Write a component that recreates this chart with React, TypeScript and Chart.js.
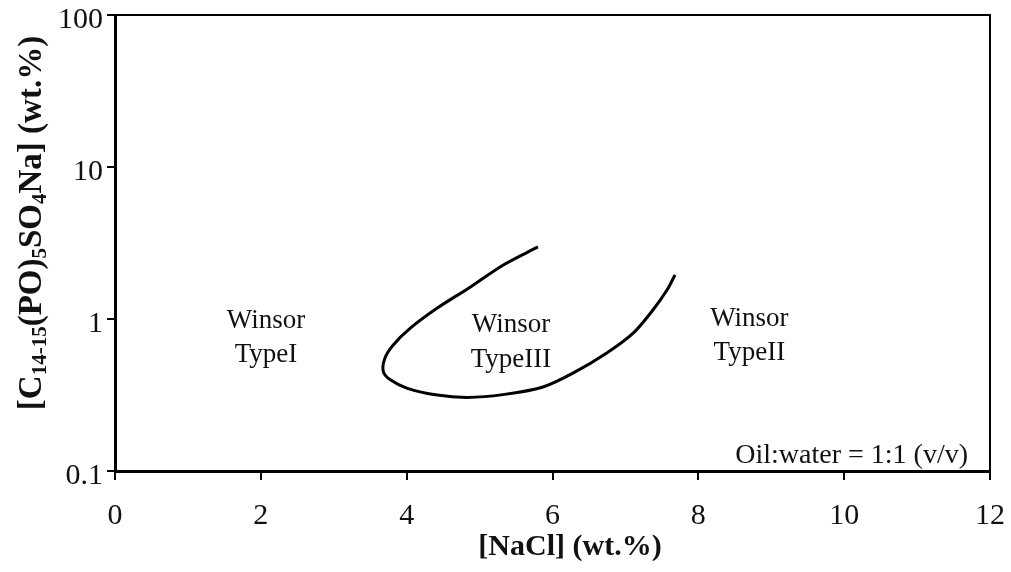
import React, { useEffect, useRef } from "react";
import { Chart, registerables } from "chart.js";

Chart.register(...registerables);

// Boundary of the Winsor Type III region (NaCl wt.% vs surfactant wt.%)
const naclValues = [5.8, 5.32, 4.87, 4.42, 4.05, 3.81, 3.7, 3.68, 3.77, 4.01, 4.42, 4.83, 5.32, 5.87, 6.28, 6.75, 7.11, 7.38, 7.57, 7.68];
const surfactantValues = [2.98, 2.26, 1.62, 1.18, 0.87, 0.67, 0.55, 0.45, 0.4, 0.35, 0.316, 0.305, 0.318, 0.357, 0.44, 0.6, 0.81, 1.15, 1.55, 1.95];

const xTickValues = [0, 2, 4, 6, 8, 10, 12];
const yTickValues = [0.1, 1, 10, 100];

const regionLine1 = ["Winsor", "Winsor", "Winsor"];
const regionLine2 = ["TypeI", "TypeIII", "TypeII"];
const regionX = [2.07, 5.43, 8.7];
const regionY1 = [0.873, 0.82, 0.9];
const regionY2 = [0.52, 0.483, 0.535];

const noteText = "Oil:water = 1:1 (v/v)";
const xTitle = "[NaCl] (wt.%)";
// y title pieces: [text, isSubscript]
const yTitleParts: [string, boolean][] = [
  ["[C", false],
  ["14-15", true],
  ["(PO)", false],
  ["5", true],
  ["SO", false],
  ["4", true],
  ["Na] (wt.%)", false],
];

const SERIF = "'Liberation Serif', 'Times New Roman', serif";

export default function App() {
  const ref = useRef<HTMLCanvasElement | null>(null);

  useEffect(() => {
    if (!ref.current) return;
    const decor = {
      id: "decor",
      afterDraw(chart: any) {
        const ctx = chart.ctx as CanvasRenderingContext2D;
        const { left, right, top, bottom } = chart.chartArea;
        const xs = chart.scales.x;
        const ys = chart.scales.y;
        ctx.save();
        // frame top and right
        ctx.strokeStyle = "#000";
        ctx.lineWidth = 2;
        ctx.beginPath();
        ctx.moveTo(left, top);
        ctx.lineTo(right, top);
        ctx.lineTo(right, bottom);
        ctx.stroke();

        ctx.fillStyle = "#111";
        // region labels
        ctx.font = `27px ${SERIF}`;
        ctx.textAlign = "center";
        ctx.textBaseline = "alphabetic";
        for (let i = 0; i < regionX.length; i++) {
          const px = xs.getPixelForValue(regionX[i]);
          ctx.fillText(regionLine1[i], px, ys.getPixelForValue(regionY1[i]));
          ctx.fillText(regionLine2[i], px, ys.getPixelForValue(regionY2[i]));
        }
        // note
        ctx.font = `28px ${SERIF}`;
        ctx.textAlign = "right";
        ctx.fillText(noteText, right - 22, bottom - 8);

        // x title
        ctx.font = `bold 30px ${SERIF}`;
        ctx.textAlign = "center";
        ctx.fillText(xTitle, 570, 555);

        // y title (rotated)
        const mainFont = `bold 33px ${SERIF}`;
        const subFont = `bold 21px ${SERIF}`;
        let total = 0;
        for (const [t, sub] of yTitleParts) {
          ctx.font = sub ? subFont : mainFont;
          total += ctx.measureText(t).width;
        }
        ctx.translate(41, 223);
        ctx.rotate(-Math.PI / 2);
        ctx.textAlign = "left";
        let cx = -total / 2;
        for (const [t, sub] of yTitleParts) {
          ctx.font = sub ? subFont : mainFont;
          ctx.fillText(t, cx, sub ? 5 : 0);
          cx += ctx.measureText(t).width;
        }
        ctx.restore();
      },
    };

    const chart = new Chart(ref.current, {
      type: "line",
      data: {
        datasets: [
          {
            data: naclValues.map((x, i) => ({ x, y: surfactantValues[i] })),
            borderColor: "#000",
            borderWidth: 3,
            pointRadius: 0,
            tension: 0.3,
            fill: false,
          },
        ],
      },
      options: {
        responsive: false,
        animation: false,
        events: [],
        layout: { padding: { top: 15, right: 21, left: 0, bottom: 0 } },
        plugins: { legend: { display: false }, tooltip: { enabled: false }, title: { display: false } },
        scales: {
          x: {
            type: "linear",
            min: 0,
            max: 12,
            afterBuildTicks: (s: any) => {
              s.ticks = xTickValues.map((v) => ({ value: v }));
            },
            afterFit: (s: any) => {
              s.height = 101;
              s.paddingLeft = 0;
              s.paddingRight = 0;
            },
            border: { display: true, color: "#000", width: 3 },
            grid: { display: true, drawOnChartArea: false, drawTicks: true, tickLength: 9, color: "#000", lineWidth: 2 },
            ticks: {
              color: "#111",
              font: { family: SERIF, size: 30 },
              padding: 18,
              maxRotation: 0,
              autoSkip: false,
              callback: (v: any) => String(v),
            },
          },
          y: {
            type: "logarithmic",
            min: 0.1,
            max: 100,
            afterBuildTicks: (s: any) => {
              s.ticks = yTickValues.map((v) => ({ value: v }));
            },
            afterFit: (s: any) => {
              s.width = 115;
              s.paddingTop = 0;
              s.paddingBottom = 0;
            },
            border: { display: true, color: "#000", width: 3 },
            grid: { display: true, drawOnChartArea: false, drawTicks: true, tickLength: 8, color: "#000", lineWidth: 2 },
            ticks: {
              color: "#111",
              font: { family: SERIF, size: 30 },
              padding: 4,
              labelOffset: 5,
              autoSkip: false,
              callback: (v: any) => String(v),
            },
          },
        },
      },
      plugins: [decor],
    });
    return () => chart.destroy();
  }, []);

  return (
    <div style={{ position: "fixed", left: 0, top: 0, width: 1011, height: 572, background: "#fff" }}>
      <canvas ref={ref} width={1011} height={572} style={{ display: "block" }} />
    </div>
  );
}
